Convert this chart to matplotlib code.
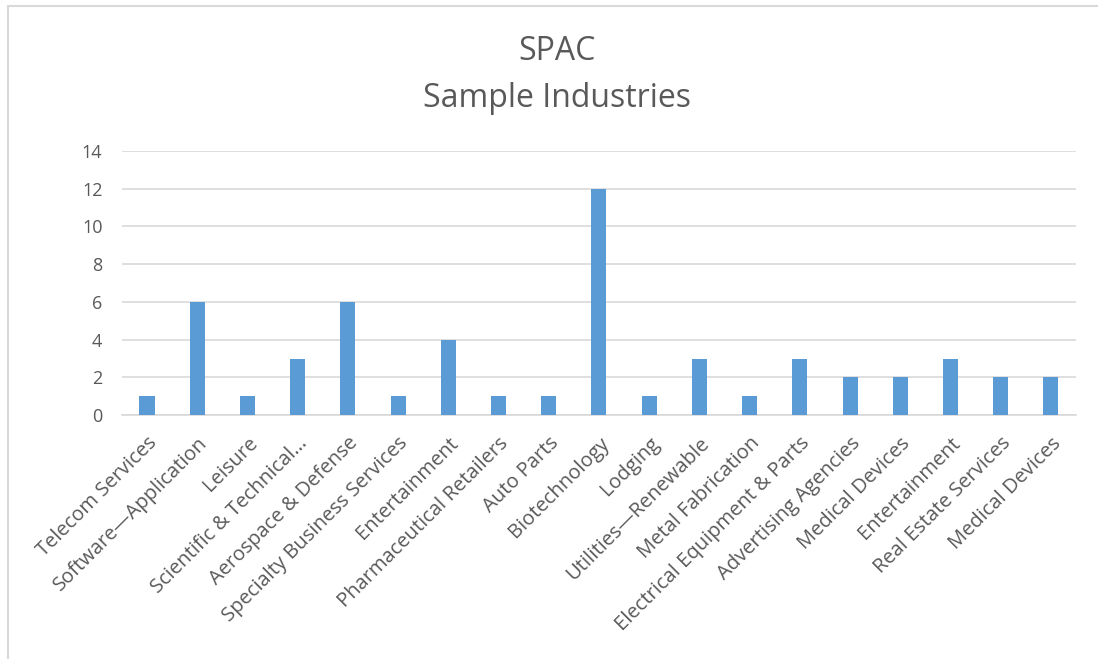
import matplotlib.pyplot as plt
import numpy as np
from matplotlib.patches import Rectangle

industries = ['Telecom Services', 'Software\u2014Application', 'Leisure', 'Scientific & Technical\u2026',
              'Aerospace & Defense', 'Specialty Business Services', 'Entertainment',
              'Pharmaceutical Retailers', 'Auto Parts', 'Biotechnology', 'Lodging',
              'Utilities\u2014Renewable', 'Metal Fabrication', 'Electrical Equipment & Parts',
              'Advertising Agencies', 'Medical Devices', 'Entertainment', 'Real Estate Services',
              'Medical Devices']
counts = [1, 6, 1, 3, 6, 1, 4, 1, 1, 12, 1, 3, 1, 3, 2, 2, 3, 2, 2]
y_ticks = [0, 2, 4, 6, 8, 10, 12, 14]

plt.rcParams['font.family'] = ['Open Sans', 'DejaVu Sans']
txt = '#595959'
grid = '#D9D9D9'

fig = plt.figure(figsize=(10.98, 6.59), dpi=100)
ax = fig.add_axes([0.111, 0.370, 0.869, 0.401])

x = np.arange(len(industries))
ax.bar(x, counts, width=0.3, color='#5B9BD5', zorder=3)

ax.set_xlim(-0.5, len(industries) - 0.5)
ax.set_ylim(0, 14)
ax.set_yticks(y_ticks)
ax.set_yticklabels([str(v) for v in y_ticks], color=txt, fontsize=13)
ax.set_xticks(x)
ax.set_xticklabels(industries, rotation=45, ha='right', rotation_mode='anchor',
                   color=txt, fontsize=14.5)
ax.tick_params(axis='x', length=0, pad=13)
ax.tick_params(axis='y', length=0, pad=14)
ax.yaxis.grid(True, color=grid, linewidth=1.2, zorder=0)
for s in ['top', 'right', 'left']:
    ax.spines[s].set_visible(False)
ax.spines['bottom'].set_color(grid)
ax.spines['bottom'].set_linewidth(1.2)

fig.text(0.507, 0.922, 'SPAC', ha='center', va='center', fontsize=23, color=txt)
fig.text(0.507, 0.851, 'Sample Industries', ha='center', va='center', fontsize=23, color=txt)

# outer chart border (cut off at right/bottom like the screenshot)
fig.patches.append(Rectangle((8 / 1098, -0.05), 1.2, 1 - 6 / 659 + 0.05,
                             transform=fig.transFigure, fill=False,
                             edgecolor=grid, linewidth=1.5))

fig.savefig('out.png', dpi=100)
